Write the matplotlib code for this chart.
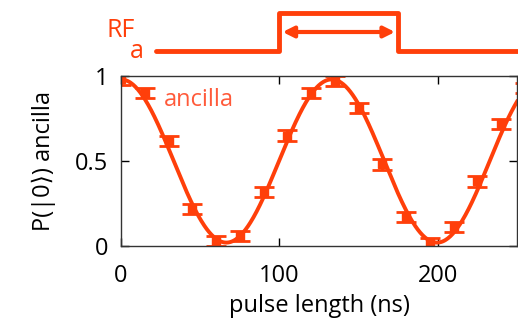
import numpy as np
import matplotlib.pyplot as plt

pulse_ns = [0, 15, 30, 45, 60, 75, 90, 105, 120, 135, 150, 165, 180, 195, 210, 225, 240, 255]
p0 = [0.98, 0.90, 0.62, 0.22, 0.03, 0.06, 0.32, 0.65, 0.90, 0.97, 0.81, 0.48, 0.17, 0.02, 0.11, 0.38, 0.72, 0.93]
p0_err = [0.03] * len(pulse_ns)

# cosine fit parameters
fit_offset = 0.5
fit_amp = 0.48
fit_period = 133.0

# RF pulse sketch above the plot
rf_start = 22
rf_on = 100
rf_off = 175
rf_end = 260

col = '#ff3f0a'
txt_col = '#ff5a3a'

plt.rcParams['font.family'] = ['Open Sans', 'DejaVu Sans']
plt.rcParams['font.size'] = 17

fig = plt.figure(figsize=(5.18, 3.21), dpi=100)
ax = fig.add_axes([121/518, 75/321, 396/518, 170/321])

t = np.linspace(0, 250, 500)
ax.plot(t, fit_offset + fit_amp*np.cos(2*np.pi*t/fit_period), color=col, lw=2.8)
ax.errorbar(pulse_ns, p0, yerr=p0_err, fmt='s', color=col, ms=6,
            capsize=7, elinewidth=2, capthick=2)

ax.set_xlim(0, 250)
ax.set_ylim(0, 1)
ax.set_xticks([0, 100, 200])
ax.set_yticks([0, 0.5, 1])
ax.set_yticklabels(['0', '0.5', '1'])
ax.tick_params(axis='both', direction='in', top=True, right=True, length=6, width=1)
ax.tick_params(axis='x', pad=13)
ax.tick_params(axis='y', pad=9)
for s in ax.spines.values():
    s.set_linewidth(1)
    s.set_color('#333333')
ax.set_xlabel('pulse length (ns)', labelpad=4)
ax.set_ylabel('P(|0⟩) ancilla', labelpad=14)
ax.text(27, 0.86, 'ancilla', color=txt_col, va='center', fontsize=17)

# pulse panel
top = fig.add_axes([121/518, 270/321, 396/518, 38/321])
top.set_xlim(0, 250)
top.set_ylim(0, 1)
top.axis('off')
top.plot([rf_start, rf_on, rf_on, rf_off, rf_off, rf_end], [0, 0, 1, 1, 0, 0],
         color=col, lw=3.5, clip_on=False, solid_capstyle='round')
top.annotate('', xy=(rf_on + 2, 0.5), xytext=(rf_off - 2, 0.5),
             arrowprops=dict(arrowstyle='<|-|>', color=col, lw=3, mutation_scale=16,
                             shrinkA=0, shrinkB=0))
top.text(9, 0.55, 'RF', color=col, ha='right', va='center', fontsize=18)
top.text(10, 0.0, 'a', color=col, ha='center', va='center', fontsize=18)

fig.savefig('out.png', dpi=100)
